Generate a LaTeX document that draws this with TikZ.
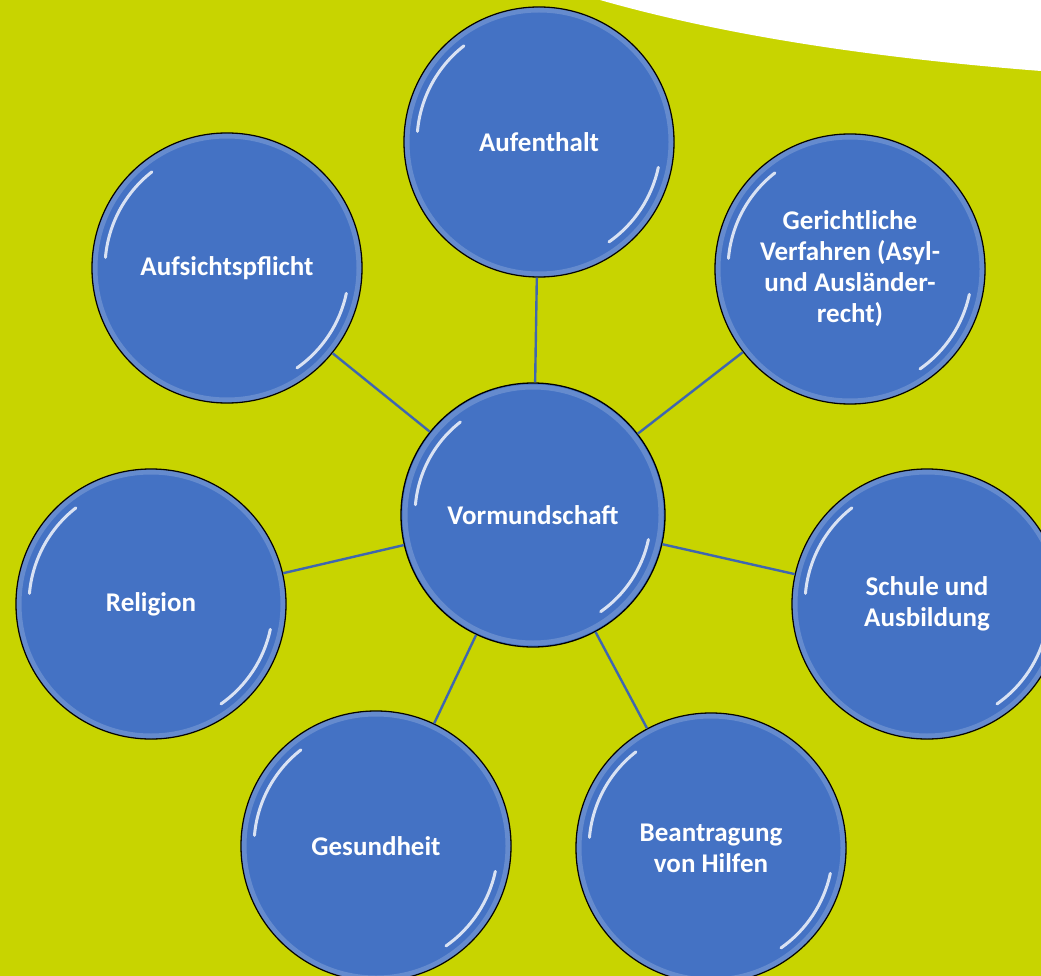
\documentclass[tikz,border=0pt]{standalone}
\usepackage{fontspec}
\setmainfont{Carlito}
\usepackage{tikz}
\definecolor{leaf_green}{HTML}{C8D400}
\definecolor{ball_blue}{HTML}{4472C4}
\definecolor{spoke_blue}{HTML}{3F66B0}
\tikzset{
  glassball/.style={circle, draw=black, line width=1.3pt, fill=ball_blue,
    minimum size=#1, inner sep=0pt, align=center, text=white,
    font=\fontsize{27}{31}\selectfont\bfseries},
  glassball/.default=270pt,
  spoke/.style={spoke_blue, line width=2.4pt},
  glint/.style={white, line width=3pt, opacity=0.8, line cap=round},
  rim/.style={white, line width=5pt, opacity=0.18}
}

\begin{document}
\begin{tikzpicture}[x=1pt, y=-1pt]

% Draw the green background and the white corner
\fill[leaf_green] (0,0) rectangle (1041,976);
\useasboundingbox (0,0) rectangle (1041,976);
\clip (0,0) rectangle (1041,976);
\fill[white] (600,0) .. controls (740,40) and (900,60) .. (1041,71) -- (1041,0) -- cycle;

% Draw the centre ball
\node[glassball=264pt] (vormund) at (533,515) {Vormundschaft};

% Draw the outer balls
\node[glassball] (aufenthalt) at (539,142) {Aufenthalt};
\node[glassball] (aufsicht) at (227,268) {Aufsichtspflicht};
\node[glassball] (gericht) at (850,269) {Gerichtliche\\Verfahren (Asyl-\\und Ausländer-\\recht)};
\node[glassball] (religion) at (151,604) {Religion};
\node[glassball] (schule) at (927,604) {Schule und\\Ausbildung};
\node[glassball] (gesund) at (376,846) {Gesundheit};
\node[glassball] (hilfen) at (711,848) {Beantragung\\von Hilfen};

% Draw the spokes from the centre ball
\foreach \n in {aufenthalt, aufsicht, gericht, religion, schule, gesund, hilfen}
  \draw[spoke] (vormund) -- (\n);

% Draw the glassy rims and highlights (y runs down, so angles are mirrored)
\foreach \n/\r in {vormund/131, aufenthalt/135, aufsicht/135, gericht/135, religion/135, schule/135, gesund/135, hilfen/135} {
  \draw[rim] (\n.center) circle ({\r-3});
  \draw[glint] ([shift={(-128:{\r-13})}]\n.center) arc (-128:-175:{\r-13});
  \draw[glint] ([shift={(12:{\r-13})}]\n.center) arc (12:55:{\r-13});
}

\end{tikzpicture}
\end{document}
